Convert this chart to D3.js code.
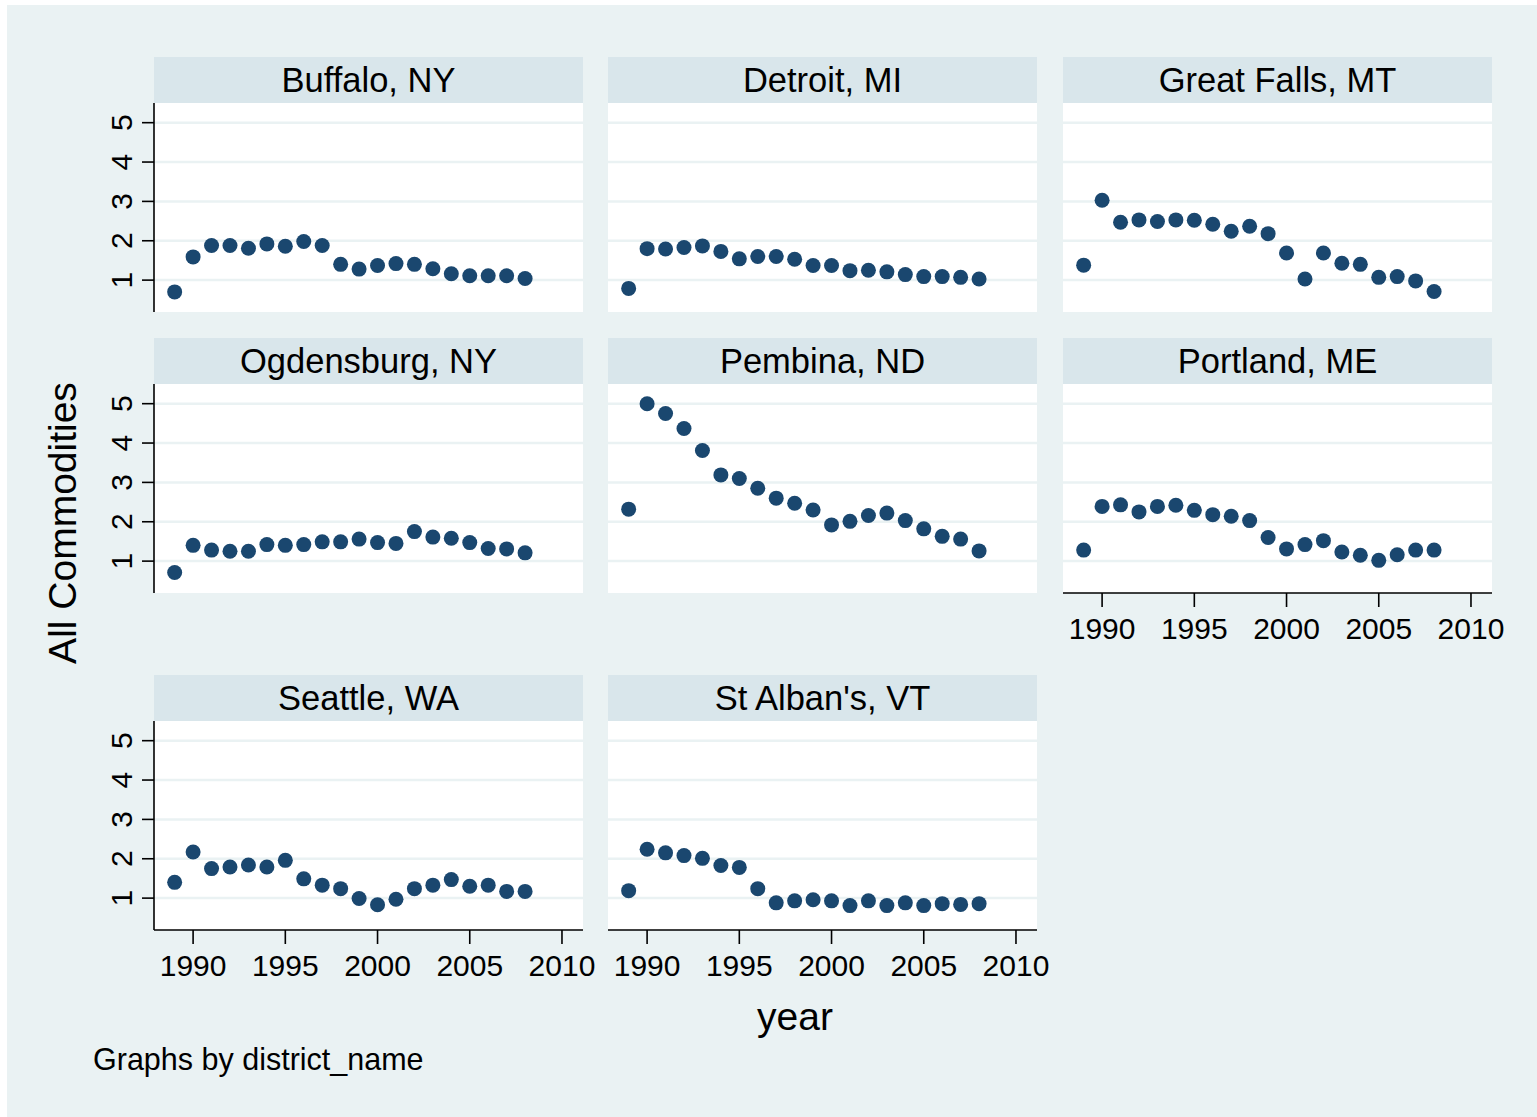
<!DOCTYPE html>
<meta charset="utf-8">
<title>All Commodities by district</title>
<style>
body { margin: 0; background: #fff; }
text { font-family: "Liberation Sans", Arial, sans-serif; fill: #000; }
</style>
<body></body>
<script src="https://cdn.jsdelivr.net/npm/d3@7"></script>
<script>

// data
var years = d3.range(1989, 2009);
var districts = ["Buffalo, NY", "Detroit, MI", "Great Falls, MT", "Ogdensburg, NY",
                 "Pembina, ND", "Portland, ME", "Seattle, WA", "St Alban's, VT"];

var buffalo    = [0.70, 1.59, 1.88, 1.88, 1.81, 1.92, 1.86, 1.98, 1.88, 1.40, 1.28, 1.37, 1.42, 1.40, 1.29, 1.16, 1.11, 1.11, 1.11, 1.04];
var detroit    = [0.79, 1.80, 1.79, 1.83, 1.87, 1.73, 1.54, 1.60, 1.60, 1.53, 1.37, 1.37, 1.24, 1.25, 1.21, 1.14, 1.09, 1.09, 1.07, 1.03];
var greatFalls = [1.38, 3.03, 2.47, 2.53, 2.49, 2.53, 2.52, 2.42, 2.24, 2.37, 2.18, 1.69, 1.03, 1.69, 1.43, 1.40, 1.07, 1.09, 0.98, 0.71];
var ogdensburg = [0.71, 1.40, 1.28, 1.25, 1.25, 1.42, 1.40, 1.42, 1.49, 1.49, 1.56, 1.47, 1.45, 1.75, 1.61, 1.58, 1.47, 1.32, 1.31, 1.21];
var pembina    = [2.32, 5.00, 4.75, 4.37, 3.81, 3.19, 3.10, 2.85, 2.60, 2.47, 2.30, 1.92, 2.01, 2.16, 2.22, 2.03, 1.82, 1.63, 1.56, 1.26];
var portland   = [1.28, 2.39, 2.43, 2.25, 2.39, 2.42, 2.29, 2.18, 2.14, 2.03, 1.60, 1.31, 1.42, 1.52, 1.23, 1.15, 1.02, 1.16, 1.28, 1.28];
var seattle    = [1.40, 2.17, 1.75, 1.79, 1.84, 1.79, 1.96, 1.49, 1.33, 1.24, 0.99, 0.83, 0.97, 1.24, 1.33, 1.47, 1.30, 1.33, 1.17, 1.17];
var stAlbans   = [1.19, 2.24, 2.15, 2.08, 2.01, 1.83, 1.78, 1.24, 0.88, 0.93, 0.96, 0.93, 0.81, 0.93, 0.81, 0.88, 0.81, 0.86, 0.84, 0.86];

var series = [buffalo, detroit, greatFalls, ogdensburg, pembina, portland, seattle, stAlbans];

var yTicks = [1, 2, 3, 4, 5];
var xTicks = [1990, 1995, 2000, 2005, 2010];

var width = 1537,
    height = 1117;

var bg = "#eaf2f3",
    strip = "#d9e6eb",
    dot = "#1a476f";

var svg = d3.select("body").append("svg")
    .attr("width", width)
    .attr("height", height);

svg.append("rect")
    .attr("x", 7).attr("y", 5)
    .attr("width", width - 7).attr("height", height - 5)
    .attr("fill", bg);

// panel layout
var colX = [154, 608, 1063],
    rowY = [57, 338, 675],
    pw = 429,
    stripH = 46,
    ph = 209;

var x = d3.scaleLinear().domain([1987.88, 2011.14]).range([0, pw]);
var y = d3.scaleLinear().domain([0.19, 5.5]).range([ph, 0]);

districts.forEach(function(name, i) {
  var col = i % 3,
      row = Math.floor(i / 3);
  var g = svg.append("g")
      .attr("transform", "translate(" + colX[col] + "," + rowY[row] + ")");

  g.append("rect")
      .attr("width", pw).attr("height", stripH)
      .attr("fill", strip);
  g.append("text")
      .attr("x", pw / 2).attr("y", stripH / 2 + 12)
      .attr("text-anchor", "middle")
      .attr("font-size", 34.5)
      .text(name);

  var p = g.append("g").attr("transform", "translate(0," + stripH + ")");
  p.append("rect")
      .attr("width", pw).attr("height", ph)
      .attr("fill", "#fff");

  // gridlines
  p.selectAll(".grid").data(yTicks).enter().append("line")
      .attr("x1", 0).attr("x2", pw)
      .attr("y1", function(d) { return y(d); })
      .attr("y2", function(d) { return y(d); })
      .attr("stroke", bg)
      .attr("stroke-width", 2.5);

  // y axis on the first column only
  if(col == 0) {
    var ya = p.append("g");
    ya.append("line")
        .attr("x1", 0).attr("x2", 0).attr("y1", 0).attr("y2", ph)
        .attr("stroke", "#000").attr("stroke-width", 1.6);
    yTicks.forEach(function(t) {
      ya.append("line")
          .attr("x1", -12).attr("x2", 0)
          .attr("y1", y(t)).attr("y2", y(t))
          .attr("stroke", "#000").attr("stroke-width", 1.6);
      ya.append("text")
          .attr("transform", "translate(-22," + y(t) + ") rotate(-90)")
          .attr("text-anchor", "middle")
          .attr("font-size", 30)
          .text(t);
    });
  }

  // x axis under the bottom panel of each column
  if(row == 2 || (row == 1 && col == 2)) {
    var xa = p.append("g").attr("transform", "translate(0," + ph + ")");
    xa.append("line")
        .attr("x1", 0).attr("x2", pw)
        .attr("stroke", "#000").attr("stroke-width", 1.6);
    xTicks.forEach(function(t) {
      xa.append("line")
          .attr("x1", x(t)).attr("x2", x(t))
          .attr("y1", 0).attr("y2", 14)
          .attr("stroke", "#000").attr("stroke-width", 1.6);
      xa.append("text")
          .attr("x", x(t)).attr("y", 46)
          .attr("text-anchor", "middle")
          .attr("font-size", 30)
          .text(t);
    });
  }

  p.selectAll(".dot").data(series[i]).enter().append("circle")
      .attr("cx", function(d, j) { return x(years[j]); })
      .attr("cy", function(d) { return y(d); })
      .attr("r", 7.5)
      .attr("fill", dot);
});

// titles
svg.append("text")
    .attr("transform", "translate(76,523) rotate(-90)")
    .attr("text-anchor", "middle")
    .attr("font-size", 39)
    .text("All Commodities");

svg.append("text")
    .attr("x", 795).attr("y", 1030)
    .attr("text-anchor", "middle")
    .attr("font-size", 39)
    .text("year");

svg.append("text")
    .attr("x", 93).attr("y", 1070)
    .attr("font-size", 30.5)
    .text("Graphs by district_name");

</script>
